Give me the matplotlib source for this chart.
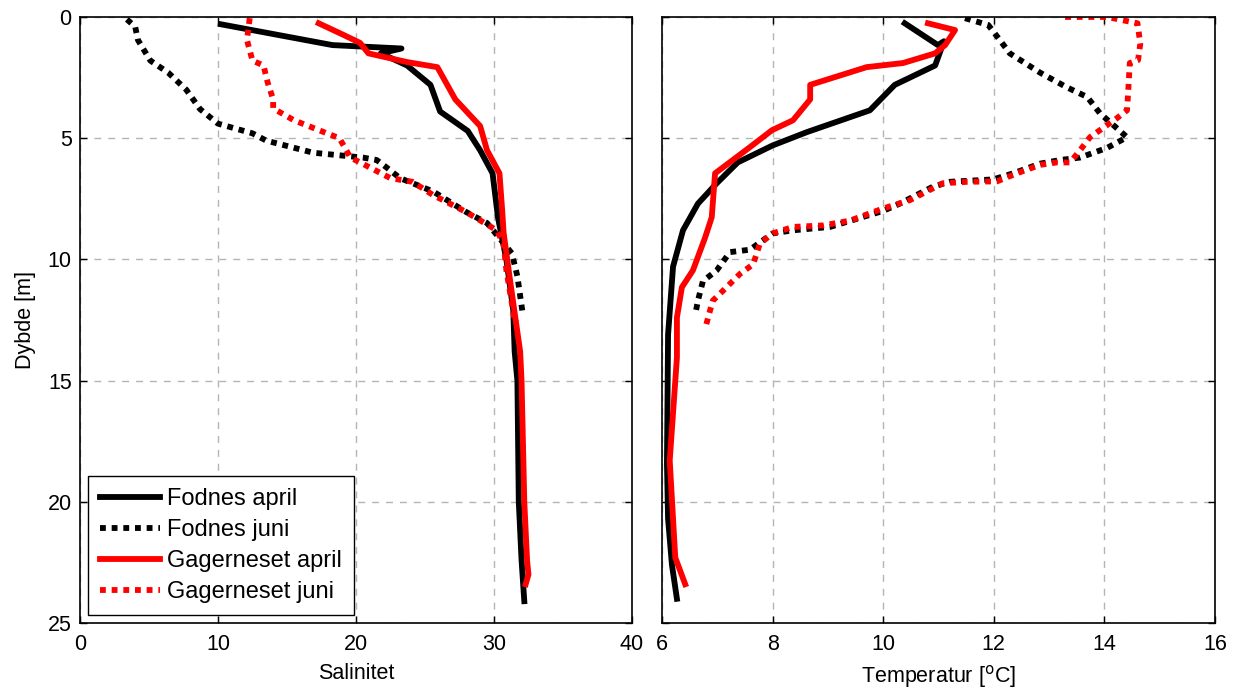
import matplotlib
matplotlib.use("Agg")
import matplotlib.pyplot as plt

plt.rcParams['font.family'] = ['Liberation Sans', 'DejaVu Sans']

# ---- Salinity profiles (left panel) ----
fodnes_april_sal = [10.2, 18.3, 23.3, 21.8, 23.7, 25.4, 26.1, 28.1, 29.0, 29.9, 30.3, 30.9, 31.4, 31.5, 31.7, 31.8, 32.0, 32.2]
fodnes_april_sal_d = [0.3, 1.16, 1.3, 1.5, 2.0, 2.8, 3.9, 4.7, 5.5, 6.45, 8.3, 10.0, 12.1, 13.8, 15.0, 20.0, 22.4, 24.1]

fodnes_juni_sal = [3.4, 4.0, 4.2, 5.1, 6.4, 7.7, 8.7, 10.0, 12.5, 13.5, 16.9, 20.5, 21.5, 22.2, 23.2, 25.6, 28.0, 29.5, 31.3, 31.7, 32.1]
fodnes_juni_sal_d = [0.1, 0.4, 0.95, 1.8, 2.3, 3.0, 3.8, 4.4, 4.8, 5.1, 5.6, 5.8, 5.9, 6.2, 6.65, 7.2, 8.05, 8.5, 9.75, 10.7, 12.3]

gager_april_sal = [17.3, 19.1, 20.3, 20.9, 23.7, 25.9, 27.2, 29.0, 29.5, 30.4, 30.6, 30.7, 31.2, 31.9, 32.0, 32.2, 32.4, 32.5, 32.3]
gager_april_sal_d = [0.26, 0.74, 1.07, 1.5, 1.86, 2.07, 3.4, 4.5, 5.5, 6.45, 8.0, 8.9, 11.0, 13.8, 15.0, 20.0, 22.4, 23.0, 23.4]

gager_juni_sal = [12.3, 12.1, 12.5, 13.3, 13.6, 14.0, 14.0, 15.5, 17.9, 18.8, 19.6, 20.3, 22.5, 24.1, 25.6, 28.0, 30.2, 30.7, 30.9, 31.5, 31.7]
gager_juni_sal_d = [0.05, 0.95, 1.8, 2.0, 2.7, 3.4, 3.77, 4.26, 4.8, 5.0, 5.8, 6.0, 6.65, 6.8, 7.35, 8.05, 8.8, 9.35, 10.45, 12.5, 12.6]

# ---- Temperature profiles (right panel) ----
fodnes_april_temp = [10.39, 10.99, 11.1, 10.94, 10.21, 9.76, 8.62, 8.0, 7.37, 6.99, 6.65, 6.38, 6.2, 6.11, 6.09, 6.11, 6.18, 6.27]
fodnes_april_temp_d = [0.26, 1.16, 1.0, 2.0, 2.8, 3.85, 4.75, 5.3, 6.0, 6.86, 7.7, 8.8, 10.3, 13.1, 18.4, 20.7, 22.6, 24.0]

fodnes_juni_temp = [11.48, 11.9, 12.11, 12.29, 12.84, 13.32, 13.69, 13.92, 14.41, 14.05, 13.56, 13.2, 12.84, 12.35, 11.99, 11.2, 10.9, 10.3,
                    10.0, 9.04, 8.37, 8.0, 7.59, 7.23, 6.99, 6.74, 6.65, 6.6]
fodnes_juni_temp_d = [0.05, 0.33, 0.95, 1.5, 2.3, 2.9, 3.3, 3.97, 4.96, 5.4, 5.8, 5.9, 6.05, 6.45, 6.7, 6.8, 7.0, 7.7,
                      8.0, 8.66, 8.8, 8.93, 9.6, 9.7, 10.45, 10.9, 11.7, 12.3]

gager_april_temp = [10.81, 11.3, 11.12, 10.94, 10.36, 9.7, 8.68, 8.68, 8.37, 7.99, 7.59, 6.96, 6.9, 6.78, 6.56, 6.36, 6.27, 6.27, 6.14, 6.24, 6.42]
gager_april_temp_d = [0.26, 0.54, 1.16, 1.5, 1.9, 2.07, 2.8, 3.4, 4.26, 4.67, 5.37, 6.45, 8.26, 9.1, 10.45, 11.15, 12.4, 14.05, 18.3, 22.3, 23.4]

gager_juni_temp = [13.29, 14.05, 14.6, 14.65, 14.61, 14.46, 14.43, 14.41, 14.23, 13.92, 13.74, 13.56, 13.38, 13.14, 12.84, 12.42, 12.06,
                   11.52, 11.08, 10.48, 10.0, 9.4, 8.91, 8.37, 8.0, 7.77, 7.65, 7.41, 7.1, 6.92, 6.87, 6.78]
gager_juni_temp_d = [0.0, 0.0, 0.26, 1.1, 1.78, 1.9, 3.14, 3.85, 4.17, 4.67, 4.96, 5.5, 6.0, 6.0, 6.1, 6.45, 6.78,
                     6.8, 6.86, 7.56, 7.9, 8.4, 8.6, 8.66, 8.93, 9.35, 10.2, 10.6, 11.3, 11.7, 12.1, 12.86]

labels = ['Fodnes april', 'Fodnes juni', 'Gagerneset april', 'Gagerneset juni']
x_ticks_sal = [0, 10, 20, 30, 40]
x_ticks_temp = [6, 8, 10, 12, 14, 16]
y_ticks = [0, 5, 10, 15, 20, 25]

LW = 4.2
DOT = (0, (1, 1))
FS = 15.5

fig = plt.figure(figsize=(12.42, 6.93), dpi=100)
ax1 = fig.add_axes([0.0644, 0.101, 0.4444, 0.8745])
ax2 = fig.add_axes([0.533, 0.101, 0.4452, 0.8745])

ax1.plot(fodnes_april_sal, fodnes_april_sal_d, color='black', lw=LW, label=labels[0])
ax1.plot(fodnes_juni_sal, fodnes_juni_sal_d, color='black', lw=LW, ls=DOT, dash_capstyle='butt', label=labels[1])
ax1.plot(gager_april_sal, gager_april_sal_d, color='red', lw=LW, label=labels[2])
ax1.plot(gager_juni_sal, gager_juni_sal_d, color='red', lw=LW, ls=DOT, dash_capstyle='butt', label=labels[3])

ax2.plot(fodnes_april_temp, fodnes_april_temp_d, color='black', lw=LW)
ax2.plot(fodnes_juni_temp, fodnes_juni_temp_d, color='black', lw=LW, ls=DOT, dash_capstyle='butt')
ax2.plot(gager_april_temp, gager_april_temp_d, color='red', lw=LW)
ax2.plot(gager_juni_temp, gager_juni_temp_d, color='red', lw=LW, ls=DOT, dash_capstyle='butt')

for ax, xt in ((ax1, x_ticks_sal), (ax2, x_ticks_temp)):
    ax.set_xlim(xt[0], xt[-1])
    ax.set_ylim(25, 0)
    ax.set_xticks(xt)
    ax.set_yticks(y_ticks)
    ax.grid(True, color='#b4b4b4', ls=(0, (5, 5)), lw=1.0)
    ax.tick_params(direction='in', top=True, right=True, length=5, labelsize=FS, width=1)
    ax.tick_params(axis='x', pad=8)
    ax.tick_params(axis='y', pad=6)
    for s in ax.spines.values():
        s.set_linewidth(1.2)
    ax.set_axisbelow(True)

ax2.set_yticklabels([])
ax1.set_ylabel('Dybde [m]', fontsize=FS, labelpad=8)
ax1.set_xlabel('Salinitet', fontsize=FS, labelpad=6)
ax2.set_xlabel('Temperatur [$^{\\rm o}$C]', fontsize=FS, labelpad=6)

leg = ax1.legend(loc='lower left', fontsize=17, frameon=True, fancybox=False,
                 edgecolor='black', handlelength=2.55, borderaxespad=0.35,
                 labelspacing=0.38, handletextpad=0.3, borderpad=0.5)
leg.get_frame().set_linewidth(1.0)
leg.get_frame().set_alpha(1)

fig.savefig('out.png', dpi=100, facecolor='white')
